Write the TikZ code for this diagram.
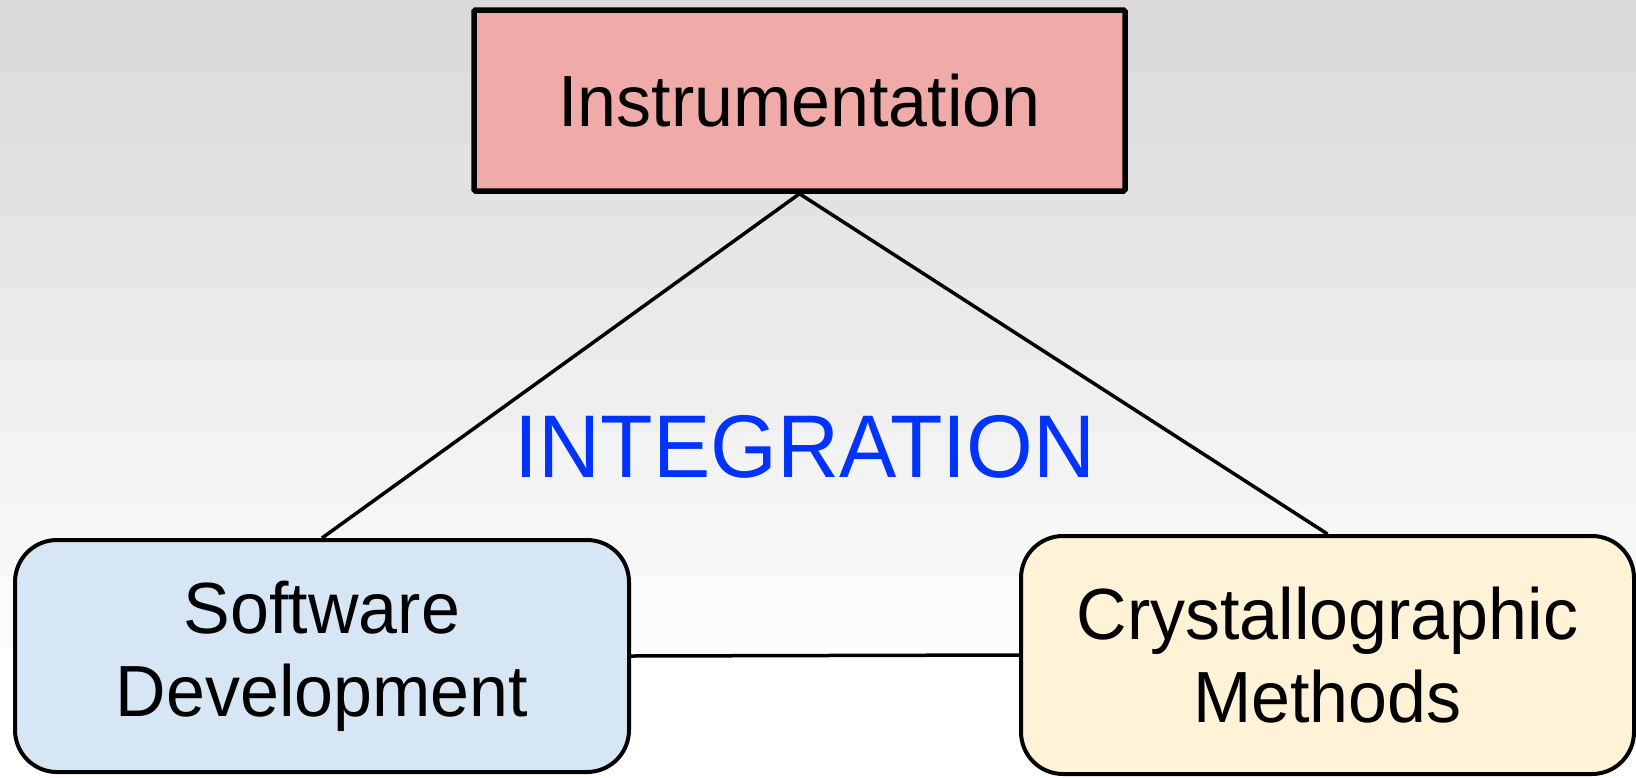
\documentclass[tikz,border=0pt]{standalone}
\usepackage{fontspec}
\setmainfont[FakeStretch=0.965]{Liberation Sans}
\definecolor{instfill}{HTML}{F0AAA8}
\definecolor{softfill}{HTML}{D7E6F5}
\definecolor{crysfill}{HTML}{FEF2D7}
\definecolor{intblue}{HTML}{0033FF}
\tikzset{
  boxtext/.style={font=\fontsize{72.5}{83}\selectfont, align=center, inner sep=0pt},
  sqbox/.style={boxtext, draw=black, line width=5.5pt, fill=instfill, rounded corners=1.5pt},
  rbox/.style={boxtext, draw=black, line width=4pt, rounded corners=42pt},
  link/.style={draw=black, line width=3.5pt},
}
\begin{document}
\begin{tikzpicture}[x=1pt,y=-1pt]
\useasboundingbox (0,0) rectangle (1636,777);
\foreach \i in {0,...,9}{
  \pgfmathsetmacro{\p}{14.5*(1-\i/9)}
  \fill[black!\p] (0,{\i*72}) rectangle (1636,{\i*72+72.5});
}
\fill[white] (0,720) rectangle (1636,777);
\node[sqbox, minimum width=651pt, minimum height=181pt] (inst) at (799.5,100.5) {Instrumentation};
\node[rbox, fill=softfill, minimum width=614pt, minimum height=232pt] (soft) at (322,656) {Software\\Development};
\node[rbox, fill=crysfill, minimum width=613pt, minimum height=238pt] (crys) at (1327.5,655) {Crystallographic\\Methods};
\draw[link] (inst.south) -- (soft.north);
\draw[link] (inst.south) -- (crys.north);
\draw[link] (soft.east) -- (crys.west);
\node[font=\fontsize{89}{98}\selectfont, text=intblue, inner sep=0pt] (integ) at (805,447) {INTEGRATION};
\end{tikzpicture}
\end{document}
